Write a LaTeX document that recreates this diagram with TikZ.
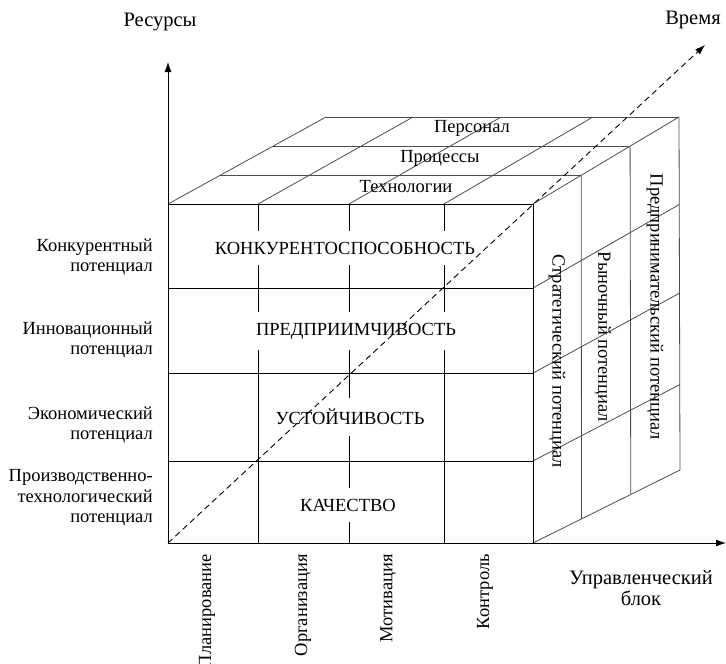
\documentclass[tikz,border=0pt]{standalone}
\usepackage{fontspec}
\setmainfont{Liberation Serif}
\usetikzlibrary{arrows.meta,calc}
\begin{document}
\begin{tikzpicture}[x=1pt,y=-1pt,
  every node/.style={font=\fontsize{18.5}{20.5}\selectfont, inner sep=0pt},
  axislabel/.style={font=\fontsize{20.5}{20.5}\selectfont},
  grid/.style={line width=0.8pt, black},
  face/.style={line width=0.8pt, black!70},
  axis/.style={line width=0.9pt, black, -{Latex[length=10pt,width=7pt]}},
  timeaxis/.style={axis, dash pattern=on 6pt off 4pt},
  rowtext/.style={fill=white, inner xsep=2pt, inner ysep=11pt},
  sidetext/.style={rotate=-90},
  coltext/.style={rotate=90, anchor=east},
  restext/.style={anchor=east, align=right}]
\useasboundingbox (0,0) rectangle (726,664);

% cube corners
\coordinate (A) at (168,204); % front top-left
\coordinate (B) at (533,204); % front top-right
\coordinate (E) at (533,543); % front bottom-right
\coordinate (O) at (168,543); % origin of the axes
\coordinate (D) at (326,117); % back top-left
\coordinate (C) at (679,117); % back top-right
\coordinate (G) at (680,470); % back bottom-right

% top face: layers and column lines
\foreach \t in {0.33,0.665} \draw[face] ($(A)!\t!(D)$) -- ($(B)!\t!(C)$);
\draw[face] (D) -- (C);
\foreach \f in {0,0.2466,0.496,0.756,1} \draw[face] ($(A)!\f!(B)$) -- ($(D)!\f!(C)$);

% side face: layers and row lines
\foreach \t in {0.33,0.665} \draw[face] ($(B)!\t!(C)$) -- ($(E)!\t!(G)$);
\draw[face] (C) -- (G);
\foreach \r in {0.248,0.499,0.758,1} \draw[face] ($(B)!\r!(E)$) -- ($(C)!\r!(G)$);

% front face grid
\draw[grid] (A) rectangle (E);
\foreach \y in {288,373,461} \draw[grid] (168,\y) -- (533,\y);
\foreach \x in {258,349,444} \draw[grid] (\x,204) -- (\x,543);

% front face rows
\node[rowtext] (r1) at (345,248) {КОНКУРЕНТОСПОСОБНОСТЬ};
\node[rowtext] (r2) at (356,331) {ПРЕДПРИИМЧИВОСТЬ};
\node[rowtext] (r3) at (350,417) {УСТОЙЧИВОСТЬ};
\node[rowtext] (r4) at (348,505) {КАЧЕСТВО};

% top face layers
\node (l1) at (406,187) {Технологии};
\node (l2) at (440,158) {Процессы};
\node (l3) at (472,128) {Персонал};

% side face layers
\node[sidetext] (s1) at (557,361) {Стратегический потенциал};
\node[sidetext] (s2) at (603,337) {Рыночный потенциал};
\node[sidetext] (s3) at (655,307) {Предпринимательский потенциал};

% axes
\coordinate (ytip) at (168,62);
\coordinate (xtip) at (726,543);
\coordinate (ttip) at (705,45);
\draw[axis] (O) -- (ytip);
\draw[axis] (O) -- (xtip);
\draw[timeaxis] (O) -- (ttip);

\node[axislabel] (res) at (160,22) {Ресурсы};
\node[axislabel] (time) at (693,20) {Время};
\node[axislabel, align=center] (ctrl) at (641,588) {Управленческий\\блок};

% resource levels
\node[restext] (p1) at (153,257) {Конкурентный\\потенциал};
\node[restext] (p2) at (153,340) {Инновационный\\потенциал};
\node[restext] (p3) at (153,425) {Экономический\\потенциал};
\node[restext] (p4) at (153,498) {Производственно-\\технологический\\потенциал};

% management functions
\node[coltext] (c1) at (207,554) {Планирование};
\node[coltext] (c2) at (303,554) {Организация};
\node[coltext] (c3) at (388,554) {Мотивация};
\node[coltext] (c4) at (485,554) {Контроль};
\end{tikzpicture}
\end{document}
